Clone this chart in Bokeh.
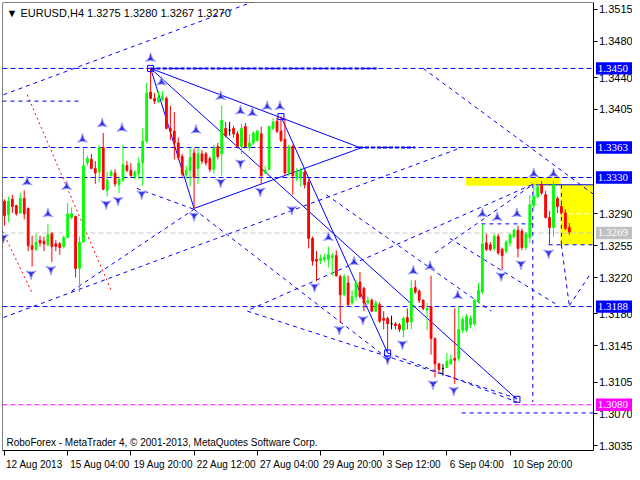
from bokeh.plotting import figure
from bokeh.models import Range1d, FixedTicker, PrintfTickFormatter, Label, LinearAxis
from bokeh.embed import file_html
from bokeh.resources import INLINE

# ---------------- data: EURUSD H4 candles ----------------
opens = [1.3304,1.3289,1.3306,1.3299,1.3291,1.3307,1.3296,1.3255,1.3251,1.3261,
         1.3260,1.3256,1.3268,1.3257,1.3257,1.3254,1.3264,1.3286,1.3287,1.3230,
         1.3259,1.3346,1.3350,1.3340,1.3336,1.3363,1.3316,1.3332,1.3335,1.3322,
         1.3327,1.3343,1.3338,1.3331,1.3334,1.3346,1.3370,1.3424,1.3417,1.3413,
         1.3416,1.3417,1.3384,1.3381,1.3368,1.3353,1.3333,1.3338,1.3357,1.3340,
         1.3356,1.3356,1.3351,1.3339,1.3364,1.3356,1.3384,1.3382,1.3384,1.3378,
         1.3364,1.3386,1.3363,1.3368,1.3371,1.3378,1.3335,1.3339,1.3384,1.3392,
         1.3381,1.3372,1.3335,1.3364,1.3329,1.3330,1.3336,1.3325,1.3263,1.3240,
         1.3239,1.3240,1.3240,1.3242,1.3244,1.3221,1.3201,1.3214,1.3192,1.3199,
         1.3215,1.3208,1.3192,1.3195,1.3183,1.3190,1.3175,1.3175,1.3169,1.3169,
         1.3168,1.3162,1.3176,1.3171,1.3209,1.3205,1.3195,1.3184,1.3188,1.3153,
         1.3125,1.3120,1.3121,1.3125,1.3131,1.3131,1.3162,1.3162,1.3168,1.3169,
         1.3194,1.3204,1.3258,1.3256,1.3252,1.3265,1.3251,1.3249,1.3258,1.3265,
         1.3272,1.3271,1.3253,1.3264,1.3299,1.3309,1.3322,1.3311,1.3286,1.3275,
         1.3307,1.3298,1.3291,1.3275]
highs = [1.3306,1.3309,1.3311,1.3300,1.3313,1.3316,1.3297,1.3266,1.3268,1.3266,
         1.3265,1.3279,1.3270,1.3261,1.3259,1.3266,1.3302,1.3297,1.3288,1.3265,
         1.3363,1.3354,1.3356,1.3348,1.3366,1.3379,1.3336,1.3339,1.3339,1.3331,
         1.3366,1.3348,1.3346,1.3338,1.3352,1.3384,1.3434,1.3450,1.3423,1.3425,
         1.3425,1.3419,1.3409,1.3402,1.3374,1.3356,1.3343,1.3363,1.3362,1.3363,
         1.3360,1.3358,1.3353,1.3366,1.3368,1.3409,1.3391,1.3391,1.3387,1.3381,
         1.3389,1.3390,1.3377,1.3381,1.3383,1.3386,1.3343,1.3387,1.3395,1.3396,
         1.3397,1.3395,1.3366,1.3366,1.3340,1.3341,1.3338,1.3328,1.3265,1.3249,
         1.3245,1.3246,1.3254,1.3247,1.3250,1.3223,1.3224,1.3222,1.3206,1.3217,
         1.3226,1.3210,1.3199,1.3197,1.3195,1.3193,1.3183,1.3177,1.3178,1.3171,
         1.3170,1.3177,1.3186,1.3217,1.3217,1.3207,1.3196,1.3192,1.3222,1.3154,
         1.3126,1.3125,1.3137,1.3135,1.3186,1.3188,1.3177,1.3180,1.3178,1.3196,
         1.3214,1.3279,1.3268,1.3259,1.3268,1.3268,1.3253,1.3261,1.3268,1.3274,
         1.3277,1.3274,1.3270,1.3311,1.3323,1.3323,1.3326,1.3315,1.3293,1.3326,
         1.3309,1.3301,1.3295,1.3280]
lows = [1.3277,1.3281,1.3291,1.3288,1.3290,1.3284,1.3249,1.3232,1.3249,1.3254,
        1.3249,1.3254,1.3237,1.3249,1.3245,1.3252,1.3263,1.3284,1.3220,1.3204,
        1.3258,1.3343,1.3339,1.3323,1.3325,1.3316,1.3309,1.3331,1.3320,1.3313,
        1.3325,1.3336,1.3331,1.3328,1.3328,1.3321,1.3368,1.3416,1.3411,1.3412,
        1.3414,1.3383,1.3371,1.3350,1.3349,1.3331,1.3328,1.3320,1.3295,1.3323,
        1.3345,1.3343,1.3336,1.3334,1.3350,1.3332,1.3374,1.3376,1.3374,1.3362,
        1.3356,1.3362,1.3359,1.3366,1.3369,1.3322,1.3334,1.3338,1.3382,1.3379,
        1.3369,1.3333,1.3332,1.3311,1.3326,1.3320,1.3318,1.3252,1.3233,1.3216,
        1.3235,1.3237,1.3231,1.3222,1.3221,1.3170,1.3199,1.3189,1.3190,1.3194,
        1.3197,1.3183,1.3190,1.3182,1.3182,1.3170,1.3163,1.3138,1.3163,1.3163,
        1.3160,1.3154,1.3163,1.3163,1.3202,1.3192,1.3184,1.3162,1.3135,1.3110,
        1.3114,1.3112,1.3121,1.3124,1.3103,1.3128,1.3159,1.3160,1.3164,1.3167,
        1.3192,1.3202,1.3249,1.3249,1.3249,1.3245,1.3228,1.3246,1.3254,1.3263,
        1.3242,1.3250,1.3250,1.3258,1.3296,1.3307,1.3311,1.3285,1.3256,1.3265,
        1.3291,1.3289,1.3272,1.3267]
closes = [1.3288,1.3304,1.3298,1.3290,1.3307,1.3290,1.3255,1.3251,1.3259,1.3258,
          1.3257,1.3267,1.3254,1.3254,1.3253,1.3264,1.3290,1.3290,1.3230,1.3259,
          1.3343,1.3351,1.3340,1.3335,1.3363,1.3317,1.3327,1.3336,1.3323,1.3328,
          1.3344,1.3338,1.3332,1.3336,1.3346,1.3370,1.3423,1.3417,1.3414,1.3418,
          1.3419,1.3384,1.3381,1.3368,1.3352,1.3334,1.3338,1.3352,1.3330,1.3356,
          1.3348,1.3346,1.3339,1.3362,1.3353,1.3393,1.3376,1.3382,1.3378,1.3364,
          1.3384,1.3364,1.3368,1.3379,1.3381,1.3332,1.3338,1.3386,1.3391,1.3381,
          1.3371,1.3335,1.3364,1.3332,1.3337,1.3338,1.3322,1.3263,1.3238,1.3238,
          1.3241,1.3242,1.3245,1.3244,1.3222,1.3201,1.3221,1.3190,1.3199,1.3214,
          1.3199,1.3192,1.3195,1.3183,1.3192,1.3172,1.3173,1.3169,1.3169,1.3167,
          1.3163,1.3175,1.3171,1.3208,1.3204,1.3195,1.3186,1.3186,1.3153,1.3125,
          1.3119,1.3120,1.3128,1.3130,1.3129,1.3163,1.3174,1.3177,1.3175,1.3195,
          1.3206,1.3257,1.3251,1.3251,1.3265,1.3247,1.3244,1.3259,1.3267,1.3272,
          1.3252,1.3253,1.3268,1.3300,1.3309,1.3320,1.3313,1.3286,1.3275,1.3322,
          1.3298,1.3291,1.3274,1.3270]

time_ticks = [0, 16, 32, 48, 64, 80, 96, 112, 128]
time_labels = ["12 Aug 2013", "15 Aug 04:00", "19 Aug 20:00", "22 Aug 12:00",
               "27 Aug 04:00", "29 Aug 20:00", "3 Sep 12:00", "6 Sep 04:00",
               "10 Sep 20:00"]
price_ticks = [1.3515, 1.3480, 1.3440, 1.3405, 1.3290, 1.3255, 1.3220,
               1.3180, 1.3145, 1.3105, 1.3070, 1.3035]

# fractal arrows (bar position, price)
up_fr_x = [5.75, 11, 15.75, 19.75, 24.75, 29.75, 37, 39.75, 48.5, 54.75, 59.75,
           62.75, 66.5, 69.75, 82, 88.5, 103.5, 107.75, 114.75, 121, 124.75,
           129.75, 134, 139]
up_fr_y = [1.3325, 1.3290, 1.3320, 1.3372, 1.3389, 1.3384, 1.3461, 1.3435,
           1.3382, 1.3419, 1.3403, 1.3401, 1.3408, 1.3408, 1.3264, 1.3237,
           1.3227, 1.3232, 1.3200, 1.3290, 1.3286, 1.3290, 1.3334, 1.3334]
dn_fr_x = [-0.25, 6.75, 11.75, 25.75, 28.75, 34.75, 48, 54.75, 59.75, 64.75,
           72.75, 78.5, 84.75, 90.75, 97, 100.75, 108.5, 113.75, 125.75,
           130.75, 137.75]
dn_fr_y = [1.3264, 1.3224, 1.3229, 1.3301, 1.3305, 1.3312, 1.3288, 1.3325,
           1.3346, 1.3315, 1.3295, 1.3210, 1.3163, 1.3174, 1.3130, 1.3147,
           1.3103, 1.3096, 1.3222, 1.3235, 1.3247]

# horizontal levels
blue_levels = [1.3450, 1.3363, 1.3330, 1.3188]
target_level = 1.3080
bid_level = 1.3269

# solid trend lines (x0, y0, x1, y1)
solid_x0 = [37, 37, 48, 70, 37, 134.5]
solid_y0 = [1.3450, 1.3450, 1.3296, 1.3397, 1.3450, 1.3322]
solid_x1 = [90.25, 48, 90.25, 97, 129.75, 149]
solid_y1 = [1.33625, 1.3296, 1.33625, 1.3137, 1.3086, 1.3322]

# dashed lines
dash_x0 = [-0.25, -0.25, 17, 33.5, 48, 61.5, 62.25, 106, 81.5, 112.75, 109,
           97, 141, 141, 143, 133.75, 120.75, 137.75, -0.5, 115.75]
dash_y0 = [1.3421, 1.3176, 1.3205, 1.3318, 1.3295, 1.3183, 1.3185, 1.3450,
           1.3311, 1.3263, 1.3247, 1.3137, 1.3322, 1.3256, 1.3189, 1.3323,
           1.3279, 1.3256, 1.3414, 1.3071]
dash_x1 = [62.75, 115.75, 48, 48, 97, 129.75, 134, 149, 123.25, 140.25, 134,
           129.75, 141, 143, 148.5, 133.75, 134, 149, 19.75, 149]
dash_y1 = [1.3523, 1.3363, 1.3295, 1.3295, 1.3131, 1.3087, 1.3323, 1.3312,
           1.3183, 1.3189, 1.3323, 1.3083, 1.3256, 1.3189, 1.3225, 1.3083,
           1.3279, 1.3256, 1.3414, 1.3071]

# red dotted lines
red_x0 = [5.75, -0.5]
red_y0 = [1.3421, 1.3271]
red_x1 = [27, 7]
red_y1 = [1.3206, 1.3203]

# marked points (small squares)
box_x = [37, 70, 97, 129.75]
box_y = [1.3450, 1.3397, 1.3137, 1.3086]

# yellow zones (left, right, bottom, top)
zone_l = [116.75, 140.75]
zone_r = [140.75, 149]
zone_b = [1.3321, 1.3256]
zone_t = [1.3330, 1.3322]

FONT = "Liberation Sans"
BLUE = "#0000FF"
W, H = 632, 472
X_END = 149        # position of the price scale
X_MAX = 159        # right edge incl. price scale
Y_MIN, Y_MAX = 1.30297, 1.35225

p = figure(width=W, height=H, output_backend="svg", toolbar_location=None,
           x_range=Range1d(-0.5, X_MAX), y_range=Range1d(Y_MIN, Y_MAX),
           x_axis_location=None, y_axis_location=None,
           min_border_left=2, min_border_top=2,
           min_border_right=0, min_border_bottom=0)
p.xgrid.visible = False
p.ygrid.visible = False
p.outline_line_color = None
p.background_fill_color = "white"

# price axis, drawn at the right edge of the chart area
yax = LinearAxis(fixed_location=X_END, ticker=FixedTicker(ticks=price_ticks),
                 formatter=PrintfTickFormatter(format="%.4f"))
yax.major_tick_in = 0
yax.major_tick_out = 4
yax.minor_tick_line_color = None
yax.axis_line_color = "black"
yax.major_label_text_font = FONT
yax.major_label_text_font_size = "11px"
yax.major_label_text_color = "black"
yax.major_label_standoff = 2
p.add_layout(yax, "right")

# chart border (left and top)
left_ax = LinearAxis(fixed_location=-0.5, ticker=FixedTicker(ticks=[]))
left_ax.axis_line_color = "black"
left_ax.major_tick_line_color = None
left_ax.minor_tick_line_color = None
p.add_layout(left_ax, "left")
top_ax = LinearAxis(fixed_location=Y_MAX, ticker=FixedTicker(ticks=[]),
                    bounds=(-0.5, X_END))
top_ax.axis_line_color = "black"
top_ax.major_tick_line_color = None
top_ax.minor_tick_line_color = None
p.add_layout(top_ax, "above")

# time axis: tick marks at the bars (minor ticks), labels left-aligned after them
shift = [(len(l) * 4.9 / 2 + 3) / 3.95 for l in time_labels]
label_pos = [t + s for t, s in zip(time_ticks, shift)]
xax = LinearAxis(ticker=FixedTicker(ticks=label_pos, minor_ticks=time_ticks),
                 major_label_overrides={pos: l for pos, l in zip(label_pos, time_labels)},
                 bounds=(-0.5, X_END))
xax.major_tick_line_color = None
xax.major_tick_in = 0
xax.major_tick_out = 0
xax.minor_tick_in = 0
xax.minor_tick_out = 5
xax.minor_tick_line_color = "black"
xax.axis_line_color = "black"
xax.major_label_standoff = 3
xax.major_label_text_font = FONT
xax.major_label_text_font_size = "10px"
xax.major_label_text_color = "black"
p.add_layout(xax, "below")

# yellow zones
p.quad(left=zone_l, right=zone_r, bottom=zone_b, top=zone_t,
       fill_color="#FFFF00", line_color=None)

# horizontal levels
for lvl in blue_levels:
    p.segment(x0=[-0.5], y0=[lvl], x1=[X_END], y1=[lvl], line_color=BLUE,
              line_width=1, line_dash="5 3")
p.segment(x0=[-0.5], y0=[target_level], x1=[X_END], y1=[target_level],
          line_color="#FF00FF", line_width=1, line_dash="5 3")
p.segment(x0=[-0.5], y0=[bid_level], x1=[X_END], y1=[bid_level],
          line_color="#C8C8C8", line_width=1, line_dash="5 3")
p.segment(x0=[37, 89.75], y0=[1.3450, 1.3363], x1=[94.75, 104], y1=[1.3450, 1.3363],
          line_color=BLUE, line_width=2, line_dash="4 2")
p.segment(x0=[140.75], y0=[1.3290], x1=[X_END], y1=[1.3290],
          line_color="white", line_width=1, line_dash="5 3")

# lines
p.segment(x0=dash_x0, y0=dash_y0, x1=dash_x1, y1=dash_y1, line_color=BLUE,
          line_width=1, line_dash="4 4")
p.segment(x0=red_x0, y0=red_y0, x1=red_x1, y1=red_y1, line_color="#FF0000",
          line_width=1, line_dash="2 3")
p.segment(x0=solid_x0, y0=solid_y0, x1=solid_x1, y1=solid_y1, line_color=BLUE,
          line_width=1)

# candles
colors = []
for o, c in zip(opens, closes):
    if c > o:
        colors.append("#00FF00")
    elif c < o:
        colors.append("#FF0000")
    else:
        colors.append("#000000")
idx = list(range(len(opens)))
p.segment(x0=idx, y0=lows, x1=idx, y1=highs, line_color=colors, line_width=1)
p.vbar(x=idx, width=0.45, top=[max(o, c) for o, c in zip(opens, closes)],
       bottom=[min(o, c) for o, c in zip(opens, closes)],
       fill_color=colors, line_color=colors, line_width=1)

# fractals
p.scatter(x=up_fr_x, y=up_fr_y, marker="triangle_pin", size=10,
          fill_color="#3030E0", line_color="#A0A0FF", line_width=1)
p.scatter(x=dn_fr_x, y=dn_fr_y, marker="triangle_pin", size=10, angle=3.14159,
          fill_color="#3030E0", line_color="#A0A0FF", line_width=1)

# boxes
p.scatter(x=box_x, y=box_y, marker="square", size=6, fill_color=None,
          line_color=BLUE, line_width=1)

# highlighted prices on the scale
hl_levels = [1.3450, 1.3363, 1.3330, bid_level, 1.3188, target_level]
hl_colors = [BLUE, BLUE, BLUE, "#C0C0C0", BLUE, "#FF00FF"]
hl_text = ["%.4f" % v for v in hl_levels]
half = 0.00068
p.quad(left=[X_END + 0.75] * len(hl_levels), right=[X_MAX] * len(hl_levels),
       bottom=[v - half for v in hl_levels], top=[v + half for v in hl_levels],
       fill_color=hl_colors, line_color=None, level="annotation")
p.text(x=[X_END + 1.2] * len(hl_levels), y=hl_levels, text=hl_text,
       text_font=FONT, text_font_size="11px", text_color="white",
       text_align="left", text_baseline="middle", level="annotation")

# header and footer
p.add_layout(Label(x=-0.5, y=1.3511, x_offset=4,
                   text="\u25bc  EURUSD,H4  1.3275 1.3280 1.3267 1.3270",
                   text_font=FONT, text_font_size="11px", text_color="black",
                   text_align="left", text_baseline="middle"))
p.add_layout(Label(x=-0.5, y=1.3039, x_offset=4,
                   text="RoboForex - MetaTrader 4, \u00a9 2001-2013, MetaQuotes Software Corp.",
                   text_font=FONT, text_font_size="10px", text_color="black",
                   text_align="left", text_baseline="middle"))

open("out.html", "w").write(file_html(p, INLINE))
